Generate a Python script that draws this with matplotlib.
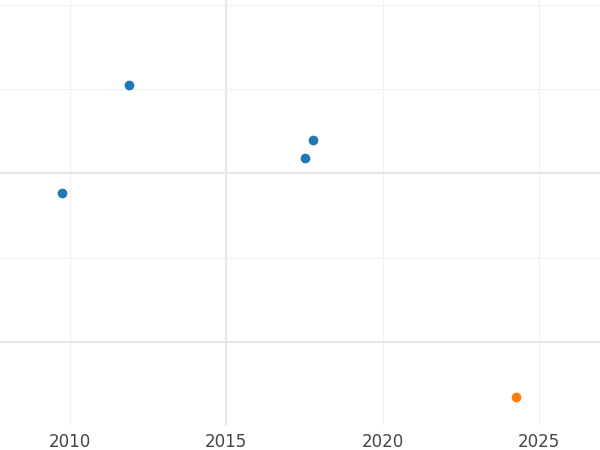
import matplotlib
matplotlib.use("Agg")
import matplotlib.pyplot as plt

years_blue = [2009.74, 2011.89, 2017.51, 2017.77]
vals_blue = [1.77, 3.05, 2.18, 2.40]
years_orange = [2024.26]
vals_orange = [-0.65]
xticks = [2010, 2015, 2020, 2025]

fig = plt.figure(figsize=(6, 4.5), dpi=100)
ax = fig.add_axes([0, 0.056, 1, 0.944])
ax.set_xlim(2007.76, 2026.95)
ax.set_ylim(-0.985, 4.06)
for x in xticks:
    ax.axvline(x, color="#e6e6e6" if x == 2015 else "#f0f0f0", lw=1.5 if x == 2015 else 0.8, zorder=0)
for y in [0, 1, 2, 3, 4]:
    ax.axhline(y, color="#e6e6e6" if y in (0, 2) else "#f0f0f0", lw=1.5 if y in (0, 2) else 0.8, zorder=0)
ax.scatter(years_blue, vals_blue, color="#1f77b4", s=36, zorder=3)
ax.scatter(years_orange, vals_orange, color="#ff7f0e", s=36, zorder=3)
ax.set_xticks(xticks)
ax.set_xticklabels([str(x) for x in xticks], color="#444444", fontsize=12)
ax.set_yticks([])
ax.tick_params(axis="x", length=0, pad=6)
for s in ax.spines.values():
    s.set_visible(False)
fig.savefig("out.png", dpi=100)
